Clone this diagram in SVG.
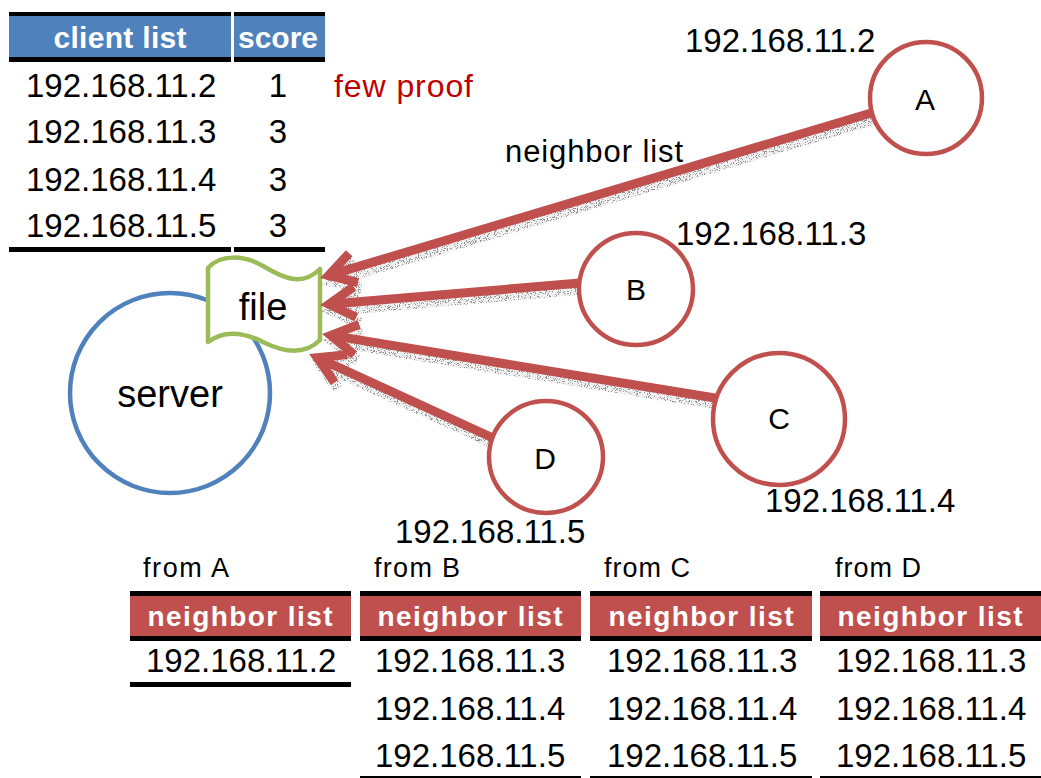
<svg xmlns="http://www.w3.org/2000/svg" width="1041" height="778" viewBox="0 0 1041 778">
  <style>
    text { font-family: "Liberation Sans", Arial, sans-serif; fill: #000; }
    .ip { font-size: 33px; }
    .hdr { font-size: 30px; font-weight: bold; fill: #fff; text-anchor: middle; }
    .nhdr { font-size: 28px; font-weight: bold; fill: #fff; text-anchor: middle; }
    .from { font-size: 27px; }
    .mid { text-anchor: middle; }
    .rule { fill: #000; }
    .cband { fill: #4F81BD; }
    .nband { fill: #C0504D; }
    .peer { fill: #fff; stroke: #C0504D; stroke-width: 4.5; }
    .peer-label { font-size: 30px; text-anchor: middle; }
    .link { fill: none; stroke: #C0504D; stroke-width: 9; marker-end: url(#openHead); }
    .link-shadow { fill: none; stroke: #000; stroke-width: 11; marker-end: url(#openHeadShadow); }
  </style>
  <defs>
    <marker id="openHead" viewBox="-4 -3 6 6" refX="0" refY="0" markerWidth="6" markerHeight="6"
            markerUnits="strokeWidth" orient="auto" overflow="visible">
      <path d="M -2.9 -1.7 L 0 0 L -2.9 1.7" fill="none" stroke="#C0504D" stroke-width="1" stroke-linejoin="miter" stroke-miterlimit="10"/>
    </marker>
    <marker id="openHeadShadow" viewBox="-4 -3 6 6" refX="0" refY="0" markerWidth="6" markerHeight="6"
            markerUnits="strokeWidth" orient="auto" overflow="visible">
      <path d="M -2.4 -1.4 L 0 0 L -2.4 1.4" fill="none" stroke="#000" stroke-width="1" stroke-linejoin="miter" stroke-miterlimit="10"/>
    </marker>
    <!-- stippled drop shadow: noise thresholded into dots, clipped to the shape -->
    <filter id="speckle" x="-5%" y="-10%" width="110%" height="120%">
      <feTurbulence type="fractalNoise" baseFrequency="0.9" numOctaves="2" seed="4" result="noise"/>
      <feColorMatrix in="noise" type="matrix"
        values="0 0 0 0 0.2  0 0 0 0 0.2  0 0 0 0 0.2  1 0 0 0 0" result="grain"/>
      <feComponentTransfer in="grain" result="dots">
        <feFuncA type="discrete" tableValues="0 0 0.15 0.8 1"/>
      </feComponentTransfer>
      <feComposite in="dots" in2="SourceAlpha" operator="in"/>
    </filter>
  </defs>

  <rect width="1041" height="778" fill="#fff"/>

  <!-- client list / score table -->
  <g id="client-table">
    <rect class="rule" x="9" y="12" width="222" height="4"/>
    <rect class="rule" x="234" y="12" width="91" height="4"/>
    <rect class="cband" x="9" y="16" width="222" height="41"/>
    <rect class="cband" x="234" y="16" width="91" height="41"/>
    <rect class="rule" x="9" y="57" width="222" height="5"/>
    <rect class="rule" x="234" y="57" width="91" height="5"/>
    <text class="hdr" x="120" y="48" textLength="133">client list</text>
    <text class="hdr" x="278" y="48">score</text>
    <text class="ip" x="26" y="97">192.168.11.2</text>
    <text class="ip" x="26" y="143">192.168.11.3</text>
    <text class="ip" x="26" y="191">192.168.11.4</text>
    <text class="ip" x="26" y="237">192.168.11.5</text>
    <text class="ip mid" x="278" y="97">1</text>
    <text class="ip mid" x="278" y="143">3</text>
    <text class="ip mid" x="278" y="191">3</text>
    <text class="ip mid" x="278" y="237">3</text>
    <rect class="rule" x="9" y="247" width="222" height="5"/>
    <rect class="rule" x="234" y="247" width="91" height="5"/>
    <text x="334" y="97" font-size="32" textLength="139" style="fill:#C00000">few proof</text>
  </g>

  <!-- server -->
  <g id="server">
    <ellipse cx="170" cy="393" rx="100" ry="100" fill="#fff" stroke="#4F81BD" stroke-width="4.5"/>
    <text x="170" y="407" font-size="38" text-anchor="middle">server</text>
  </g>

  <!-- file (wave shape) -->
  <g id="file">
    <path d="M 208 268 C 220 254, 244 255, 263 266 C 283 278, 302 287, 320 269 L 320 340 C 305 355, 284 352, 265 343 C 246 333, 225 329, 208 342 Z"
          fill="#fff" stroke="#9BBB59" stroke-width="4.5" stroke-linejoin="round"/>
    <text x="263" y="320" font-size="38" text-anchor="middle">file</text>
  </g>

  <!-- neighbor-list transfers from the peers to the file -->
  <g id="connectors">
    <g filter="url(#speckle)" transform="translate(3,6)">
      <path class="link-shadow" d="M 871 113 L 328.6 275.4"/>
      <path class="link-shadow" d="M 580 283 L 329 304.2"/>
      <path class="link-shadow" d="M 715 398 L 330.9 335.4"/>
      <path class="link-shadow" d="M 493 438 L 317.2 357.7"/>
    </g>
    <path class="link" d="M 871 113 L 328.6 275.4"/>
    <path class="link" d="M 580 283 L 329 304.2"/>
    <path class="link" d="M 715 398 L 330.9 335.4"/>
    <path class="link" d="M 493 438 L 317.2 357.7"/>
    <text x="505" y="162" font-size="31" textLength="178">neighbor list</text>
  </g>

  <!-- peers -->
  <g id="peer-A">
    <ellipse class="peer" cx="926" cy="98" rx="56" ry="56"/>
    <text class="peer-label" x="925" y="110">A</text>
    <text class="ip" x="685" y="52">192.168.11.2</text>
  </g>
  <g id="peer-B">
    <ellipse class="peer" cx="636" cy="289" rx="57" ry="56"/>
    <text class="peer-label" x="636" y="300">B</text>
    <text class="ip" x="676" y="245">192.168.11.3</text>
  </g>
  <g id="peer-C">
    <ellipse class="peer" cx="779" cy="419" rx="66" ry="66"/>
    <text class="peer-label" x="779" y="429">C</text>
    <text class="ip" x="765" y="512">192.168.11.4</text>
  </g>
  <g id="peer-D">
    <ellipse class="peer" cx="546" cy="457" rx="57" ry="56"/>
    <text class="peer-label" x="545" y="469">D</text>
    <text class="ip" x="395" y="543">192.168.11.5</text>
  </g>

  <!-- neighbor lists received from each peer -->
  <g id="list-from-A">
    <text class="from" x="143" y="577" textLength="86">from A</text>
    <rect class="rule" x="130" y="591" width="221" height="5"/>
    <rect class="nband" x="130" y="596" width="221" height="40"/>
    <rect class="rule" x="130" y="636" width="221" height="5"/>
    <text class="nhdr" x="240" y="626" textLength="185">neighbor list</text>
    <text class="ip" x="146" y="672">192.168.11.2</text>
    <rect class="rule" x="130" y="682" width="221" height="5"/>
  </g>
  <g id="list-from-B">
    <text class="from" x="374" y="577" textLength="86">from B</text>
    <rect class="rule" x="360" y="591" width="221" height="5"/>
    <rect class="nband" x="360" y="596" width="221" height="40"/>
    <rect class="rule" x="360" y="636" width="221" height="5"/>
    <text class="nhdr" x="470" y="626" textLength="185">neighbor list</text>
    <text class="ip" x="375" y="672">192.168.11.3</text>
    <text class="ip" x="375" y="720">192.168.11.4</text>
    <text class="ip" x="375" y="767">192.168.11.5</text>
    <rect class="rule" x="360" y="776" width="221" height="3"/>
  </g>
  <g id="list-from-C">
    <text class="from" x="604" y="577" textLength="86">from C</text>
    <rect class="rule" x="590" y="591" width="222" height="5"/>
    <rect class="nband" x="590" y="596" width="222" height="40"/>
    <rect class="rule" x="590" y="636" width="222" height="5"/>
    <text class="nhdr" x="701" y="626" textLength="185">neighbor list</text>
    <text class="ip" x="607" y="672">192.168.11.3</text>
    <text class="ip" x="607" y="720">192.168.11.4</text>
    <text class="ip" x="607" y="767">192.168.11.5</text>
    <rect class="rule" x="590" y="776" width="222" height="3"/>
  </g>
  <g id="list-from-D">
    <text class="from" x="835" y="577" textLength="86">from D</text>
    <rect class="rule" x="820" y="591" width="221" height="5"/>
    <rect class="nband" x="820" y="596" width="221" height="40"/>
    <rect class="rule" x="820" y="636" width="221" height="5"/>
    <text class="nhdr" x="930" y="626" textLength="185">neighbor list</text>
    <text class="ip" x="836" y="672">192.168.11.3</text>
    <text class="ip" x="836" y="720">192.168.11.4</text>
    <text class="ip" x="836" y="767">192.168.11.5</text>
    <rect class="rule" x="820" y="776" width="221" height="3"/>
  </g>
</svg>
